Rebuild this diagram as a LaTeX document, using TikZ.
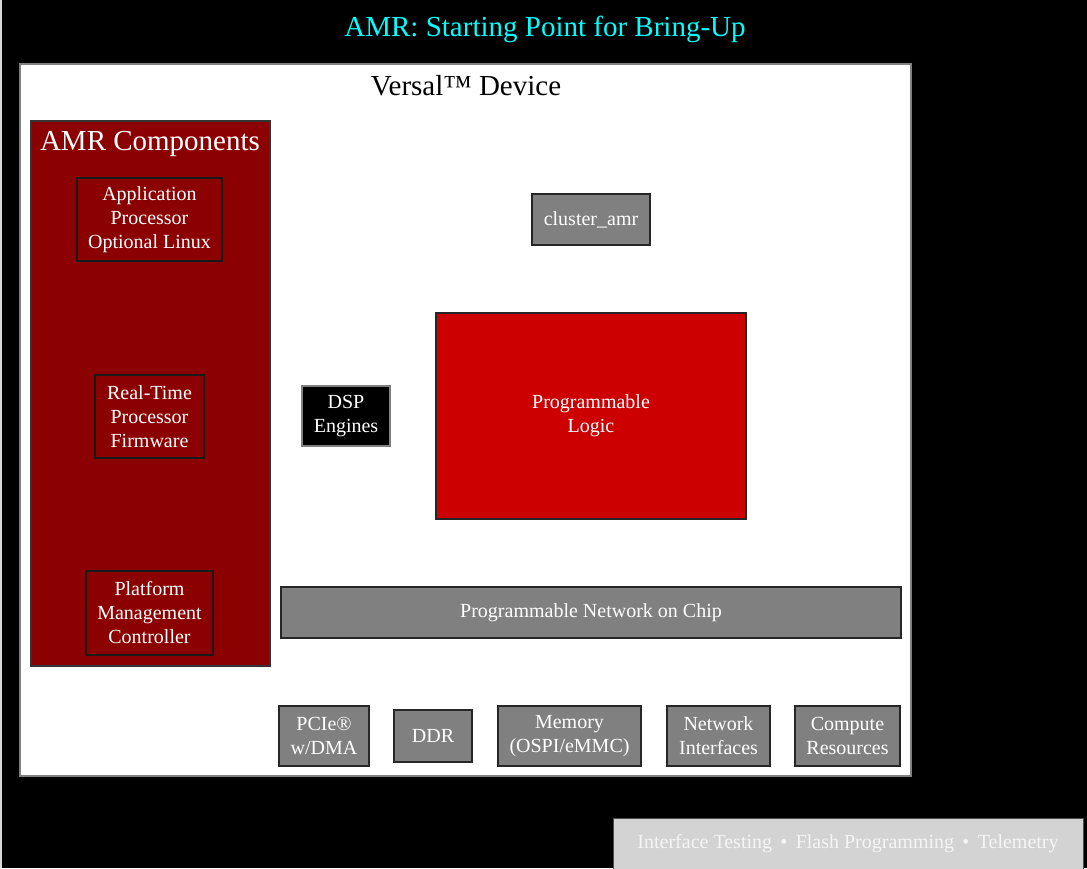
\documentclass[tikz,border=0pt]{standalone}
\usepackage{fontspec}
\setmainfont{Liberation Serif}
\definecolor{darkred}{HTML}{8B0000}
\definecolor{plred}{HTML}{CC0000}
\definecolor{boxgray}{HTML}{808080}
\definecolor{legendgray}{HTML}{D3D3D3}
\definecolor{titlecyan}{HTML}{00FFFF}
\tikzset{
  px/.style={x=1pt,y=-1pt},
  body/.style={font=\fontsize{20}{24}\selectfont, text=white, align=center},
  head/.style={font=\fontsize{29}{32}\selectfont},
  blk/.style={body, draw=black!85, line width=1.2pt, inner sep=0pt},
  graybox/.style={blk, fill=boxgray},
  redbox/.style={blk, fill=darkred, draw=black!90},
}
\begin{document}
\begin{tikzpicture}[px]
\useasboundingbox (0,0) rectangle (1087,868);
\fill[black] (0,0) rectangle (1087,868);
\fill[gray!30] (0,0) rectangle (2,868);
\node[head, text=titlecyan] (title) at (545,29) {AMR: Starting Point for Bring-Up};
% device
\node[draw=boxgray, fill=white, line width=1.5pt, minimum width=891pt, minimum height=712pt, inner sep=0pt] (device) at (465.5,420) {};
\node[head, text=black] (devlabel) at (466,86) {Versal™ Device};
% AMR components
\node[redbox, draw=black!80, minimum width=239pt, minimum height=545pt] (amr) at (150.5,393.5) {};
\node[head, text=white] (amrlabel) at (150,144) {AMR Components};
\node[redbox, minimum width=145pt, minimum height=83pt] (app) at (149.5,219.5) {Application\\Processor\\Optional Linux};
\node[redbox, minimum width=109pt, minimum height=83pt] (rtp) at (149.5,416.5) {Real-Time\\Processor\\Firmware};
\node[redbox, minimum width=127pt, minimum height=84pt] (pmc) at (149.5,613) {Platform\\Management\\Controller};
% right side
\node[graybox, minimum width=118pt, minimum height=51pt] (cluster) at (591,219.5) {cluster\_amr};
\node[blk, fill=plred, minimum width=310pt, minimum height=206pt] (pl) at (591,416) {Programmable\\Logic};
\node[blk, fill=black, draw=boxgray, minimum width=88pt, minimum height=60pt] (dsp) at (346,416) {DSP\\Engines};
\node[graybox, minimum width=620pt, minimum height=51pt] (noc) at (591,612.5) {Programmable Network on Chip};
% bottom interfaces
\node[graybox, minimum width=90pt, minimum height=60pt] (pcie) at (324,736) {PCIe®\\w/DMA};
\node[graybox, minimum width=78pt, minimum height=52pt] (ddr) at (433,736) {DDR};
\node[graybox, minimum width=143pt, minimum height=60pt] (mem) at (569.5,736) {Memory\\(OSPI/eMMC)};
\node[graybox, minimum width=103pt, minimum height=60pt] (net) at (718.5,736) {Network\\Interfaces};
\node[graybox, minimum width=105pt, minimum height=60pt] (comp) at (847.5,736) {Compute\\Resources};
% legend
\node[body, text=white!96!black, fill=legendgray, draw=black!70, line width=1pt, minimum width=470pt, minimum height=52pt, inner sep=0pt] (legend) at (848,844) {Interface Testing \,•\, Flash Programming \,•\, Telemetry};
\end{tikzpicture}
\end{document}
